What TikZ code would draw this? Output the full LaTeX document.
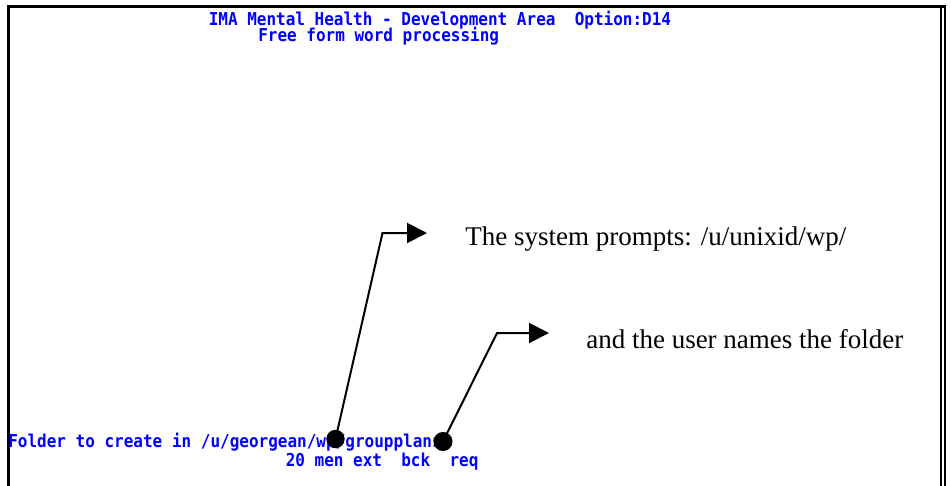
\documentclass[tikz,border=0pt]{standalone}
\usepackage{fontspec}
\usepackage{graphicx}
\setmainfont{Liberation Serif}
\newfontfamily\termfont{DejaVu Sans Mono}
\usetikzlibrary{arrows.meta}
\definecolor{termblue}{RGB}{0,0,255}

\begin{document}
\begin{tikzpicture}[x=0.75pt,y=-0.75pt,
  term/.style={anchor=base west, inner sep=0pt, text=termblue,
    font=\termfont\bfseries\fontsize{12pt}{13pt}\selectfont},
  callout/.style={anchor=base west, inner sep=0pt,
    font=\fontsize{20.25pt}{22pt}\selectfont},
  dot/.style={circle, fill=black, draw=none, inner sep=0pt, minimum size=13.8pt},
  leader/.style={line width=1.5pt, -{Triangle[length=15pt,width=15pt]}},
  frameline/.style={draw=black, line cap=butt},
  ]
\useasboundingbox (0,0) rectangle (951,486);

% screen frame: heavy top and left edges, doubled right edge
\draw[frameline, line width=2.5pt] (7,6.6) -- (946,6.6);
\draw[frameline, line width=2.25pt] (8.3,5) -- (8.3,486);
\draw[frameline, line width=1.5pt] (941.3,8) -- (941.3,486);
\draw[frameline, line width=1.5pt] (944.6,5) -- (944.6,486);

% terminal screen text
\newcommand{\tallrow}[1]{\scalebox{1}[1.11]{#1}}
\node[term] (hdr1) at (208.5,25.3) {\tallrow{IMA Mental Health - Development Area~~Option:D14}};
\node[term] (hdr2) at (258,41) {\tallrow{Free form word processing}};
\node[term] (ask)  at (8,447.5) {\tallrow{Folder to create in /u/georgean/wp/groupplans}};
\node[term] (keys) at (285.5,466.5) {\tallrow{20 men ext~~bck~~req}};

% callout dots on the prompt line
\node[dot] (d1) at (335.5,439) {};
\node[dot, minimum size=14.3pt] (d2) at (443,441.5) {};

% bent leaders
\coordinate (k1) at (382.5,233);
\coordinate (t1) at (427,233);
\coordinate (k2) at (497,333);
\coordinate (t2) at (549,333);
\draw[leader] (d1.center) -- (k1) -- (t1);
\draw[leader] (d2.center) -- (k2) -- (t2);

% callout texts
\node[callout] (c1) at (465,245) {The system prompts: /u/unixid/wp/};
\node[callout] (c2) at (586,348) {and the user names the folder};
\end{tikzpicture}
\end{document}
